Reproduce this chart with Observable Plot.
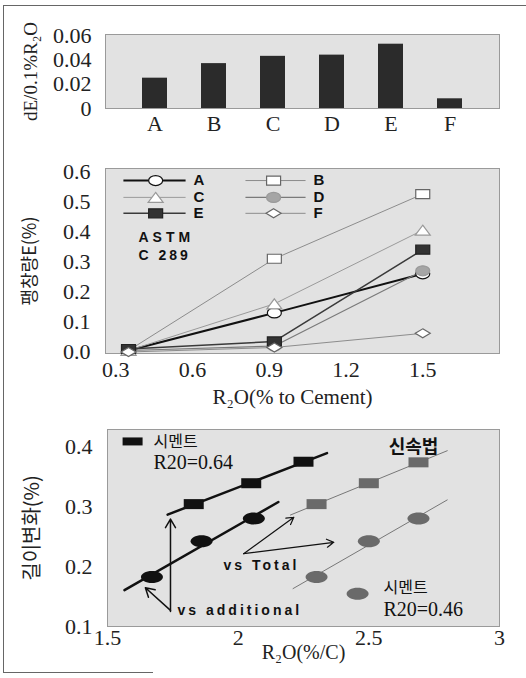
<!DOCTYPE html>
<html><head><meta charset="utf-8">
<script src="https://cdn.jsdelivr.net/npm/d3@7"></script>
<script src="https://cdn.jsdelivr.net/npm/@observablehq/plot@0.6"></script>
<style>
body{margin:0;background:#fff;}
#wrap{position:relative;width:526px;height:678px;overflow:hidden;background:#fff;}
#wrap svg{position:absolute;left:0;overflow:visible;}
.bl{position:absolute;background:#666;}
</style></head><body><div id="wrap">
<div class="bl" style="left:3px;top:5px;width:1px;height:668px"></div>
<div class="bl" style="left:3px;top:5px;width:523px;height:1px"></div>
<div class="bl" style="left:3px;top:672px;width:150px;height:1px"></div>
</div>
<script>
// ---------- data ----------
const barCategories = ["A", "B", "C", "D", "E", "F"];
const barValues = [0.025, 0.037, 0.043, 0.044, 0.053, 0.008];
const barTicks = [0, 0.02, 0.04, 0.06];
const barTickLabels = ["0", "0.02", "0.04", "0.06"];

const expX = [0.35, 0.92, 1.5];
const expA = [0.005, 0.13, 0.26];
const expB = [0.005, 0.31, 0.525];
const expC = [0.005, 0.16, 0.405];
const expD = [0.005, 0.02, 0.27];
const expE = [0.01, 0.035, 0.34];
const expF = [0.0, 0.015, 0.062];
const expXTicks = [0.3, 0.6, 0.9, 1.2, 1.5];
const expYTicks = [0, 0.1, 0.2, 0.3, 0.4, 0.5, 0.6];

const addSqX = [1.83, 2.05, 2.25];   // 시멘트, squares vs additional
const addSqY = [0.305, 0.34, 0.376];
const addCiX = [1.67, 1.86, 2.06];   // circles vs additional
const addCiY = [0.183, 0.243, 0.281];
const totSqX = [2.30, 2.50, 2.69];   // squares vs total
const totSqY = [0.305, 0.34, 0.375];
const totCiX = [2.30, 2.50, 2.69];   // circles vs total
const totCiY = [0.183, 0.243, 0.281];
const lenXTicks = [1.5, 2, 2.5, 3];
const lenYTicks = [0.1, 0.2, 0.3, 0.4];

// ---------- styles ----------
const SERIF = "'Liberation Serif', 'Times New Roman', serif";
const SANS = "'Liberation Sans', Arial, sans-serif";
const KR = "'Noto Sans CJK KR', sans-serif";
const PANEL = "#e2e2e2";
const ell = (rx, ry) => ({draw(c) {const k = 0.5523; c.moveTo(rx, 0); c.bezierCurveTo(rx, k*ry, k*rx, ry, 0, ry); c.bezierCurveTo(-k*rx, ry, -rx, k*ry, -rx, 0); c.bezierCurveTo(-rx, -k*ry, -k*rx, -ry, 0, -ry); c.bezierCurveTo(k*rx, -ry, rx, -k*ry, rx, 0); c.closePath();}});
const box = (w, h) => ({draw(c) {c.moveTo(-w/2, -h/2); c.lineTo(w/2, -h/2); c.lineTo(w/2, h/2); c.lineTo(-w/2, h/2); c.closePath();}});
const tri = (w, h) => ({draw(c) {c.moveTo(0, -h/2); c.lineTo(w/2, h/2); c.lineTo(-w/2, h/2); c.closePath();}});
const dia = (w, h) => ({draw(c) {c.moveTo(0, -h/2); c.lineTo(w/2, 0); c.lineTo(0, h/2); c.lineTo(-w/2, 0); c.closePath();}});

const wrap = document.getElementById("wrap");
const spacing = {"ASTM": 4, "C 289": 3, "vs additional": 3, "vs Total": 3};
function place(svg, top, spaced) {
  svg.style.top = top + "px";
  if (spaced) svg.querySelectorAll("text").forEach(t => {
    const k = t.textContent;
    if (spaced.includes(k)) t.style.letterSpacing = spacing[k] + "px";
  });
  wrap.appendChild(svg);
}

// ---------- panel 1: bars ----------
const barTable = barCategories.map((c, i) => ({cat: c, val: barValues[i]}));
place(Plot.plot({
  width: 526, height: 150, marginLeft: 105, marginRight: 27, marginTop: 34, marginBottom: 42,
  style: {fontFamily: SERIF, fontSize: "22px", background: "transparent", color: "#222"},
  x: {domain: barCategories, padding: 0.57, tickSize: 0, tickPadding: 7, label: null},
  y: {domain: [0, 0.061], ticks: barTicks, tickFormat: d => barTickLabels[barTicks.indexOf(d)], tickSize: 0, tickPadding: 14, label: null},
  marks: [
    Plot.frame({fill: PANEL, stroke: "#9a9a9a"}),
    Plot.barY(barTable, {x: "cat", y: "val", fill: "#2b2b2b"}),
    Plot.text(["dE/0.1%R₂O"], {text: d => d, frameAnchor: "left", textAnchor: "middle", dx: -75, rotate: -90, fontSize: 19, fontFamily: SERIF, fill: "#222"})
  ]
}), 0);

// ---------- panel 2: expansion lines ----------
const seriesDefs = [
  {key: "A", vals: expA, line: "#111", lw: 2, sym: ell(7, 5), fill: "#fff", ms: "#111"},
  {key: "B", vals: expB, line: "#8c8c8c", lw: 1, sym: box(14, 9), fill: "#fff", ms: "#666"},
  {key: "C", vals: expC, line: "#9a9a9a", lw: 1, sym: tri(15, 10), fill: "#fff", ms: "#999"},
  {key: "D", vals: expD, line: "#7a7a7a", lw: 1.2, sym: ell(7, 5), fill: "#a5a5a5", ms: "#999"},
  {key: "E", vals: expE, line: "#3a3a3a", lw: 1.5, sym: box(14, 9), fill: "#333", ms: "#222"},
  {key: "F", vals: expF, line: "#8c8c8c", lw: 1, sym: dia(15, 9), fill: "#fff", ms: "#666"}
];
const legendRowY = [0.570, 0.514, 0.461];
const legendColX = [{x1: 0.33, x2: 0.573, m: 0.456, t: 0.604}, {x1: 0.807, x2: 1.042, m: 0.917, t: 1.073}];
const marks2 = [Plot.frame({fill: PANEL, stroke: "#9a9a9a"})];
seriesDefs.forEach((s, i) => {
  const rows = expX.map((x, j) => ({x, y: s.vals[j]}));
  const col = legendColX[i % 2], ly = legendRowY[Math.floor(i / 2)];
  marks2.push(Plot.line(rows, {x: "x", y: "y", stroke: s.line, strokeWidth: s.lw}));
  marks2.push(Plot.link([s], {x1: col.x1, x2: col.x2, y1: ly, y2: ly, stroke: s.line, strokeWidth: s.lw}));
});
seriesDefs.forEach((s, i) => {
  const rows = expX.map((x, j) => ({x, y: s.vals[j]}));
  const col = legendColX[i % 2], ly = legendRowY[Math.floor(i / 2)];
  marks2.push(Plot.dot(rows, {x: "x", y: "y", symbol: s.sym, fill: s.fill, stroke: s.ms, strokeWidth: 1.2}));
  marks2.push(Plot.dot([s], {x: col.m, y: ly, symbol: s.sym, fill: s.fill, stroke: s.ms, strokeWidth: 1.2}));
  marks2.push(Plot.text([s], {x: col.t, y: ly, text: "key", textAnchor: "start", fontFamily: SANS, fontWeight: "bold", fontSize: 15, fill: "#111"}));
});
marks2.push(Plot.text(["ASTM", "C 289"], {x: 0.389, y: (d, i) => [0.38, 0.322][i], text: d => d, textAnchor: "start", fontFamily: SANS, fontWeight: "bold", fontSize: 14, fill: "#111"}));
marks2.push(Plot.text(["팽창량E(%)"], {text: d => d, frameAnchor: "left", textAnchor: "middle", dx: -75, rotate: -90, fontSize: 18, fontFamily: KR, fill: "#222"}));
marks2.push(Plot.text(["R₂O(% to Cement)"], {text: d => d, frameAnchor: "bottom", dy: 44, dx: -10, lineAnchor: "middle", fontSize: 21, fontFamily: SERIF, fill: "#222"}));
place(Plot.plot({
  width: 526, height: 260, marginLeft: 105, marginRight: 27, marginTop: 18, marginBottom: 57,
  style: {fontFamily: SERIF, fontSize: "22px", background: "transparent", color: "#222"},
  x: {domain: [0.26, 1.8], ticks: expXTicks, tickFormat: d => d.toFixed(1), tickSize: 0, tickPadding: 8, label: null},
  y: {domain: [-0.005, 0.61], ticks: expYTicks, tickFormat: d => d.toFixed(1), tickSize: 0, tickPadding: 15, label: null},
  marks: marks2
}), 150, ["ASTM", "C 289"]);

// ---------- panel 3: length change ----------
function fit(xs, ys, ext) {
  const mx = d3.mean(xs), my = d3.mean(ys);
  const b = d3.sum(xs, (x, i) => (x - mx) * (ys[i] - my)) / d3.sum(xs, x => (x - mx) ** 2);
  return ext.map(x => ({x, y: my + b * (x - mx)}));
}
const fitExtent = {addSq: [1.73, 2.34], addCi: [1.565, 2.154], totSq: [2.20, 2.80], totCi: [2.21, 2.80]};
const pts = (xs, ys) => xs.map((x, i) => ({x, y: ys[i]}));
const BSQ = box(20, 10), BCI = ell(11, 6);
place(Plot.plot({
  width: 526, height: 268, marginLeft: 107, marginRight: 27, marginTop: 19, marginBottom: 52,
  style: {fontFamily: SERIF, fontSize: "22px", background: "transparent", color: "#222"},
  x: {domain: [1.5, 3], ticks: lenXTicks, tickFormat: d => String(d), tickSize: 0, tickPadding: 3, label: null},
  y: {domain: [0.1, 0.43], ticks: lenYTicks, tickFormat: d => d.toFixed(1), tickSize: 0, tickPadding: 15, label: null},
  marks: [
    Plot.frame({fill: PANEL, stroke: "#9a9a9a"}),
    Plot.line(fit(addSqX, addSqY, fitExtent.addSq), {x: "x", y: "y", stroke: "#111", strokeWidth: 2.5}),
    Plot.line(fit(addCiX, addCiY, fitExtent.addCi), {x: "x", y: "y", stroke: "#111", strokeWidth: 2.5}),
    Plot.line(fit(totSqX, totSqY, fitExtent.totSq), {x: "x", y: "y", stroke: "#777", strokeWidth: 1}),
    Plot.line(fit(totCiX, totCiY, fitExtent.totCi), {x: "x", y: "y", stroke: "#777", strokeWidth: 1}),
    Plot.dot(pts(addSqX, addSqY), {x: "x", y: "y", symbol: BSQ, fill: "#111"}),
    Plot.dot(pts(addCiX, addCiY), {x: "x", y: "y", symbol: BCI, fill: "#111"}),
    Plot.dot(pts(totSqX, totSqY), {x: "x", y: "y", symbol: BSQ, fill: "#6a6a6a"}),
    Plot.dot(pts(totCiX, totCiY), {x: "x", y: "y", symbol: BCI, fill: "#6a6a6a"}),
    // legend / annotations
    Plot.dot([0], {x: 1.596, y: 0.41, symbol: box(20, 8), fill: "#111"}),
    Plot.text(["시멘트"], {x: 1.676, y: 0.409, text: d => d, textAnchor: "start", fontFamily: KR, fontSize: 16, fill: "#111"}),
    Plot.text(["R20=0.64"], {x: 1.676, y: 0.375, text: d => d, textAnchor: "start", fontFamily: SERIF, fontSize: 20, fill: "#111"}),
    Plot.text(["신속법"], {x: 2.671, y: 0.40, text: d => d, fontFamily: KR, fontWeight: "bold", fontSize: 18, fill: "#111"}),
    Plot.dot([0], {x: 2.457, y: 0.155, symbol: BCI, fill: "#6a6a6a"}),
    Plot.text(["시멘트"], {x: 2.556, y: 0.164, text: d => d, textAnchor: "start", fontFamily: KR, fontSize: 16, fill: "#111"}),
    Plot.text(["R20=0.46"], {x: 2.556, y: 0.128, text: d => d, textAnchor: "start", fontFamily: SERIF, fontSize: 20, fill: "#111"}),
    Plot.arrow([0], {x1: 1.741, y1: 0.125, x2: 1.741, y2: 0.28, stroke: "#111", strokeWidth: 1.5, headLength: 10}),
    Plot.arrow([0], {x1: 1.741, y1: 0.127, x2: 1.645, y2: 0.165, stroke: "#111", strokeWidth: 1.5, headLength: 10}),
    Plot.arrow([0], {x1: 2.021, y1: 0.222, x2: 2.213, y2: 0.283, stroke: "#111", strokeWidth: 1.2, headLength: 10}),
    Plot.arrow([0], {x1: 2.021, y1: 0.222, x2: 2.366, y2: 0.241, stroke: "#111", strokeWidth: 1.2, headLength: 10}),
    Plot.text(["vs additional"], {x: 1.768, y: 0.127, text: d => d, textAnchor: "start", fontFamily: SANS, fontWeight: "bold", fontSize: 14, fill: "#111"}),
    Plot.text(["vs Total"], {x: 1.944, y: 0.202, text: d => d, textAnchor: "start", fontFamily: SANS, fontWeight: "bold", fontSize: 14, fill: "#111"}),
    Plot.text(["길이변화(%)"], {text: d => d, frameAnchor: "left", textAnchor: "middle", dx: -75, rotate: -90, fontSize: 20, fontFamily: KR, fill: "#222"}),
    Plot.text(["R₂O(%/C)"], {text: d => d, frameAnchor: "bottom", dy: 26, lineAnchor: "middle", fontSize: 20, fontFamily: SERIF, fill: "#222"})
  ]
}), 410, ["vs additional", "vs Total"]);
</script></body></html>
